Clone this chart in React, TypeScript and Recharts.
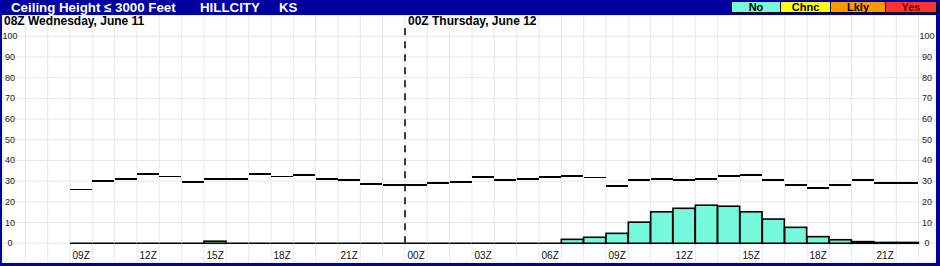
import {
  Bar,
  CartesianGrid,
  ComposedChart,
  ReferenceLine,
  XAxis,
  YAxis,
} from "recharts";

// hourly slots, 06Z Jun 11 .. 23Z Jun 12
const slots = [
  "11-06Z", "11-07Z", "11-08Z", "11-09Z", "11-10Z", "11-11Z", "11-12Z", "11-13Z", "11-14Z",
  "11-15Z", "11-16Z", "11-17Z", "11-18Z", "11-19Z", "11-20Z", "11-21Z", "11-22Z", "11-23Z",
  "12-00Z", "12-01Z", "12-02Z", "12-03Z", "12-04Z", "12-05Z", "12-06Z", "12-07Z", "12-08Z",
  "12-09Z", "12-10Z", "12-11Z", "12-12Z", "12-13Z", "12-14Z", "12-15Z", "12-16Z", "12-17Z",
  "12-18Z", "12-19Z", "12-20Z", "12-21Z", "12-22Z", "12-23Z",
];

const labelledSlots = [
  "11-09Z", "11-12Z", "11-15Z", "11-18Z", "11-21Z",
  "12-00Z", "12-03Z", "12-06Z", "12-09Z", "12-12Z", "12-15Z", "12-18Z", "12-21Z",
];

const dayBreak = "12-00Z";

// black step line
const ceilingValues = [
  null, null, null,
  26, 30.2, 31.1, 33.5, 32.3, 29.7, 31.1, 31.1, 33.5, 32.3, 33.1, 31.1, 30.6, 28.7, 28.2,
  28.1, 29.2, 29.7, 32.1, 30.6, 31.1, 32.1, 32.4, 31.9, 27.7, 30.5, 31, 30.5, 31, 32.6,
  33.1, 30.6, 28.2, 26.8, 28.2, 30.6, 29.2, 29.2,
  null,
];

// "No" category bars
const noValues = [
  null, null, null,
  0, 0, 0, 0, 0, 0, 1, 0, 0, 0, 0, 0, 0, 0, 0,
  0, 0, 0, 0, 0, 0, 0, 1.9, 2.9, 4.8, 10.2, 15.2, 16.9, 18.4, 17.9,
  15.2, 11.7, 7.7, 3.2, 1.7, 0.8, 0.4, 0.4,
  null,
];

const yTicks = [0, 10, 20, 30, 40, 50, 60, 70, 80, 90, 100];

const legendItems = ["No", "Chnc", "Lkly", "Yes"];
const legendColors = ["#76f8da", "#ffff00", "#ff9900", "#ff3333"];

const data = slots.map((slot, i) => ({
  slot,
  ceiling: ceilingValues[i],
  no: noValues[i],
}));

const FONT = 'Arial, "Liberation Sans", sans-serif';
const FRAME = "#0000a0";

function StepShape(props: any) {
  const { x, y, width, value } = props;
  if (value == null || Number.isNaN(y)) return null;
  return (
    <line x1={x} x2={x + width} y1={y} y2={y} stroke="#000" strokeWidth={1.5} shapeRendering="crispEdges" />
  );
}

function NoBarShape(props: any) {
  const { x, y, width, height, value } = props;
  if (value == null || Number.isNaN(y)) return null;
  if (!height || Math.abs(height) < 0.5) {
    return <line x1={x} x2={x + width} y1={y} y2={y} stroke="#000" strokeWidth={1.5} />;
  }
  return (
    <rect x={x} y={y} width={width} height={height} fill="#76f8da" stroke="#000" strokeWidth={1.6} />
  );
}

function HourTick(props: any) {
  const { x, y, payload } = props;
  if (!labelledSlots.includes(payload.value)) return <g />;
  return (
    <text x={x} y={y - 3} textAnchor="middle" fontSize={10} fill="#111" fontFamily={FONT}>
      {payload.value.slice(3)}
    </text>
  );
}

function LeftTick(props: any) {
  const { x, y, payload } = props;
  return (
    <text x={x + 7} y={y} dy={3} textAnchor="middle" fontSize={9} fill="#222" fontFamily={FONT}>
      {payload.value}
    </text>
  );
}

function RightTick(props: any) {
  const { x, y, payload } = props;
  return (
    <text x={x - 14} y={y} dy={3} textAnchor="middle" fontSize={9} fill="#222" fontFamily={FONT}>
      {payload.value}
    </text>
  );
}

export default function App() {
  return (
    <div
      style={{
        position: "relative",
        width: 940,
        height: 266,
        overflow: "hidden",
        background: "#fff",
        fontFamily: FONT,
      }}
    >
      <style>{`body{margin:0}`}</style>
      <div style={{ position: "absolute", left: 0, top: 0 }}>
        <ComposedChart
          width={942}
          height={266}
          data={data}
          margin={{ top: 15, right: 0, bottom: 3, left: 2 }}
          barCategoryGap={0}
          barGap={0}
        >
          <CartesianGrid
            stroke="#e8e8e8"
            verticalCoordinatesGenerator={({ offset }: any) =>
              Array.from(
                { length: slots.length + 1 },
                (_, i) => offset.left + (i * offset.width) / slots.length
              )
            }
          />
          <XAxis
            dataKey="slot"
            height={1}
            axisLine={false}
            tickLine={false}
            tickSize={0}
            tickMargin={0}
            interval={0}
            tick={HourTick}
          />
          <XAxis xAxisId="step" dataKey="slot" hide />
          <YAxis
            width={1}
            domain={[-9.05, 110.3]}
            ticks={yTicks}
            allowDataOverflow
            axisLine={false}
            tickLine={false}
            tickSize={0}
            tickMargin={0}
            interval={0}
            tick={LeftTick}
          />
          <YAxis
            yAxisId="right"
            orientation="right"
            width={1}
            domain={[-9.05, 110.3]}
            ticks={yTicks}
            allowDataOverflow
            axisLine={false}
            tickLine={false}
            tickSize={0}
            tickMargin={0}
            interval={0}
            tick={RightTick}
          />
          <Bar dataKey="no" shape={NoBarShape} isAnimationActive={false} />
          <Bar xAxisId="step" dataKey="ceiling" shape={StepShape} isAnimationActive={false} />
          <ReferenceLine
            segment={[
              { x: dayBreak, y: 0 },
              { x: dayBreak, y: 104.5 },
            ]}
            position="start"
            stroke="#000"
            strokeWidth={1.5}
            strokeDasharray="7 6"
          />
        </ComposedChart>
      </div>

      {/* frame */}
      <div style={{ position: "absolute", left: 0, top: 0, width: 940, height: 15, background: FRAME }} />
      <div style={{ position: "absolute", left: 0, top: 0, width: 2, height: 266, background: FRAME }} />
      <div style={{ position: "absolute", left: 936, top: 0, width: 4, height: 266, background: FRAME }} />
      <div style={{ position: "absolute", left: 0, top: 263, width: 940, height: 3, background: FRAME }} />

      {/* header */}
      <div style={{ position: "absolute", top: 1, left: 11, color: "#fff", fontWeight: "bold", fontSize: 13.3, lineHeight: "13px", whiteSpace: "nowrap" }}>
        Ceiling Height ≤ 3000 Feet
      </div>
      <div style={{ position: "absolute", top: 1, left: 200, color: "#fff", fontWeight: "bold", fontSize: 13.3, lineHeight: "13px" }}>
        HILLCITY
      </div>
      <div style={{ position: "absolute", top: 1, left: 279, color: "#fff", fontWeight: "bold", fontSize: 13.3, lineHeight: "13px" }}>
        KS
      </div>
      {legendItems.map((item, i) => {
        const lefts = [731, 780, 830, 885];
        const widths = [50, 51, 56, 52];
        return (
          <div
            key={item}
            style={{
              position: "absolute",
              top: 1,
              left: lefts[i],
              width: widths[i],
              height: 12,
              boxSizing: "border-box",
              border: "1px solid #000",
              background: legendColors[i],
              color: item === "Yes" ? "#700" : "#000",
              fontWeight: "bold",
              fontSize: 11,
              lineHeight: "10px",
              textAlign: "center",
            }}
          >
            {item}
          </div>
        );
      })}

      {/* day labels */}
      <div style={{ position: "absolute", top: 15, left: 4, fontWeight: "bold", fontSize: 12, lineHeight: "12px", whiteSpace: "nowrap" }}>
        08Z Wednesday, June 11
      </div>
      <div style={{ position: "absolute", top: 15, left: 408, fontWeight: "bold", fontSize: 12, lineHeight: "12px", whiteSpace: "nowrap" }}>
        00Z Thursday, June 12
      </div>
    </div>
  );
}
